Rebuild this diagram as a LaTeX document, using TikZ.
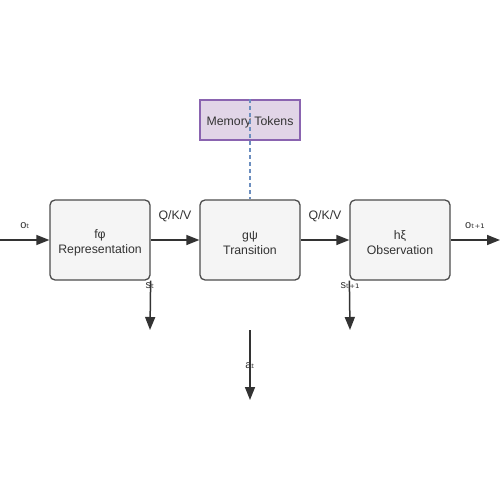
\documentclass[tikz,border=0pt]{standalone}
\usepackage{fontspec}
\setmainfont{Liberation Sans}
\newfontfamily\subf{DejaVu Sans}
\usetikzlibrary{arrows.meta}
\definecolor{txt}{HTML}{333333}
\definecolor{boxfill}{HTML}{F5F5F5}
\definecolor{boxdraw}{HTML}{4D4D4D}
\definecolor{memfill}{HTML}{E1D5E7}
\definecolor{memdraw}{HTML}{8A64B0}
\definecolor{dashc}{HTML}{6C8EBF}
\newcommand{\sbt}{{\subf ₜ}}
\newcommand{\sbtp}{{\subf ₜ₊₁}}
\begin{document}
\begin{tikzpicture}[x=1pt,y=-1pt,
  block/.style={draw=boxdraw,fill=boxfill,line width=1.3pt,rounded corners=5pt,
    minimum width=100pt,minimum height=80pt,inner sep=0pt},
  btext/.style={align=center,inner sep=0pt,
    font=\fontsize{12.3}{15}\selectfont,text=txt},
  membox/.style={draw=memdraw,fill=memfill,line width=1.3pt,
    minimum width=100pt,minimum height=40pt,inner sep=0pt},
  flow/.style={draw=txt,line width=1.5pt,-{Triangle[length=13pt,width=10pt]}},
  lbl/.style={font=\fontsize{12.3}{14}\selectfont,text=txt,inner sep=0pt},
  slbl/.style={font=\fontsize{11}{13}\selectfont,text=txt,inner sep=0pt},
  memlink/.style={draw=dashc,line width=1.5pt,dash pattern=on 4pt off 3pt}
]
\useasboundingbox (0,0) rectangle (500,500);
\node[block] (f) at (100,240) {};
\node[block] (g) at (250,240) {};
\node[block] (h) at (400,240) {};
\node[membox] (m) at (250,120) {};
\node[btext] (ft) at (100,243) {fφ\\Representation};
\node[btext] (gt) at (250,243) {gψ\\Transition};
\node[btext] (ht) at (400,243) {hξ\\Observation};
\node[lbl] (mt) at (250,122) {Memory Tokens};
\coordinate (in) at (0,240);
\coordinate (out) at (500,240);
\coordinate (s1) at (150,330);
\coordinate (s2) at (350,330);
\coordinate (atop) at (250,330);
\coordinate (abot) at (250,400);
\draw[memlink] (m.north) -- (g.north);
\draw[flow] (in) -- (f.west);
\draw[flow] (f.east) -- (g.west);
\draw[flow] (g.east) -- (h.west);
\draw[flow] (h.east) -- (out);
\draw[flow] (f.south east) -- (s1);
\draw[flow] (h.south west) -- (s2);
\draw[flow] (atop) -- (abot);
\node[slbl] (lo) at (25,226) {o\sbt};
\node[lbl] (q1) at (175,216) {Q/K/V};
\node[lbl] (q2) at (325,216) {Q/K/V};
\node[slbl] (lo2) at (475,226) {o\sbtp};
\node[slbl] (ls1) at (150,286) {s\sbt};
\node[slbl] (ls2) at (350,286) {s\sbtp};
\node[slbl] (la) at (250,366) {a\sbt};
\end{tikzpicture}
\end{document}
